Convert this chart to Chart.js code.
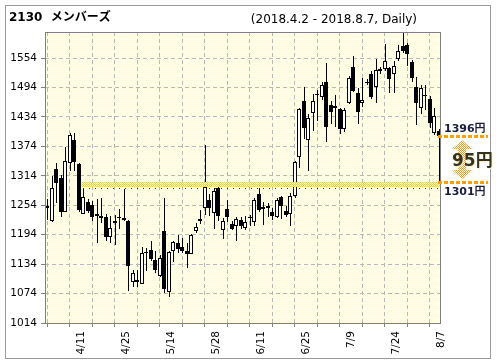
<!DOCTYPE html>
<html>
<head>
<meta charset="utf-8">
<script src="https://cdn.jsdelivr.net/npm/chart.js@4.4.1/dist/chart.umd.min.js"></script>
<style>
html,body{margin:0;padding:0;background:#fff;overflow:hidden}
canvas{display:block}
</style>
</head>
<body>
<canvas id="chart" width="496" height="364"></canvas>
<script>
// ---- data ----
const dates = ['4/2','4/3','4/4','4/5','4/6','4/9','4/10','4/11','4/12','4/13',
  '4/16','4/17','4/18','4/19','4/20','4/23','4/24','4/25','4/26','4/27',
  '5/1','5/2','5/7','5/8','5/9','5/10','5/11','5/14','5/15','5/16',
  '5/17','5/18','5/21','5/22','5/23','5/24','5/25','5/28','5/29','5/30',
  '5/31','6/1','6/4','6/5','6/6','6/7','6/8','6/11','6/12','6/13',
  '6/14','6/15','6/18','6/19','6/20','6/21','6/22','6/25','6/26','6/27',
  '6/28','6/29','7/2','7/3','7/4','7/5','7/6','7/9','7/10','7/11',
  '7/12','7/13','7/17','7/18','7/19','7/20','7/23','7/24','7/25','7/26',
  '7/27','7/30','7/31','8/1','8/2','8/3','8/6','8/7'];

const opens = [1252,1221,1328,1309,1241,1340,1387,1338,1237,1261,
  1255,1233,1228,1230,1190,1218,1231,1228,1222,1097,
  1097,1094,1157,1163,1143,1109,1201,1078,1160,1177,
  1168,1161,1155,1202,1226,1248,1265,1238,1290,1204,
  1247,1216,1212,1223,1208,1230,1219,1277,1246,1253,
  1241,1230,1270,1243,1237,1272,1352,1466,1387,1442,
  1481,1474,1506,1458,1456,1450,1409,1462,1536,1483,
  1462,1506,1522,1495,1527,1531,1534,1521,1552,1579,
  1581,1545,1495,1452,1477,1471,1401,1406];

const highs = [1267,1313,1341,1315,1372,1401,1402,1340,1289,1266,
  1262,1267,1269,1236,1233,1234,1247,1288,1224,1122,
  1121,1169,1167,1182,1160,1153,1269,1160,1182,1194,
  1187,1177,1195,1218,1245,1377,1277,1289,1292,1228,
  1265,1222,1231,1230,1233,1234,1268,1289,1260,1259,
  1248,1268,1272,1252,1279,1345,1452,1494,1440,1480,
  1489,1506,1543,1466,1479,1452,1452,1517,1558,1492,
  1513,1512,1527,1551,1535,1583,1536,1547,1581,1612,
  1584,1550,1516,1500,1498,1476,1452,1410];

const lows = [1223,1220,1258,1231,1240,1323,1323,1240,1236,1238,
  1222,1177,1218,1182,1178,1172,1206,1221,1080,1087,
  1087,1093,1119,1140,1116,1108,1076,1068,1138,1157,
  1156,1126,1154,1197,1216,1235,1232,1205,1221,1185,
  1219,1203,1182,1205,1203,1211,1211,1240,1214,1230,
  1223,1228,1225,1229,1211,1268,1330,1388,1324,1405,
  1425,1468,1383,1420,1413,1400,1404,1460,1484,1420,
  1455,1498,1470,1462,1522,1528,1483,1483,1547,1565,
  1537,1505,1417,1440,1448,1412,1398,1301];

const closes = [1248,1289,1300,1241,1345,1398,1342,1245,1271,1243,
  1231,1236,1233,1190,1208,1222,1227,1223,1131,1116,
  1102,1157,1158,1145,1123,1146,1083,1158,1180,1165,
  1161,1154,1194,1210,1222,1291,1248,1284,1232,1222,
  1229,1206,1225,1211,1219,1227,1264,1245,1251,1249,
  1233,1264,1253,1235,1272,1343,1450,1411,1431,1467,
  1478,1500,1413,1443,1453,1409,1449,1513,1486,1443,
  1468,1504,1475,1529,1532,1548,1511,1537,1569,1569,
  1562,1513,1462,1493,1478,1421,1436,1396];

const yTicks = [1014,1074,1134,1194,1254,1314,1374,1434,1494,1554];
const yMin = 1014, yMax = 1607;
const xLabelDates = ['4/11','4/25','5/14','5/28','6/11','6/25','7/9','7/24','8/7'];
const markLevel = 1301;       // lower reference level
const markFrom = '4/12';      // reference band starts here
const titleText = '2130  メンバーズ';
const periodText = '(2018.4.2 - 2018.8.7, Daily)';

// ---- derived for the library ----
const lastClose = closes[closes.length - 1];
const wickData = dates.map((d, i) => ({x: i + 0.5, y: [lows[i], highs[i]]}));
const bodyData = dates.map((d, i) => ({x: i + 0.5, y: [Math.min(opens[i], closes[i]), Math.max(opens[i], closes[i])]}));
const bodyColors = dates.map((d, i) => closes[i] >= opens[i] ? '#ffffff' : '#000000');
const xTickVals = [];
xLabelDates.forEach(d => { const v = dates.indexOf(d) + 1; xTickVals.push(v - 5, v); });

function checker(ctx, c1, c2) {
  const cv = document.createElement('canvas');
  cv.width = 2; cv.height = 2;
  const g = cv.getContext('2d');
  g.fillStyle = c2; g.fillRect(0, 0, 2, 2);
  g.fillStyle = c1; g.fillRect(0, 0, 1, 1); g.fillRect(1, 1, 1, 1);
  return ctx.createPattern(cv, 'repeat');
}

const decor = {
  id: 'decor',
  beforeDraw(chart) {
    const {ctx, chartArea: a} = chart;
    ctx.save();
    ctx.fillStyle = '#fff';
    ctx.fillRect(0, 0, chart.width, chart.height);
    ctx.strokeStyle = '#9a9a9a'; ctx.lineWidth = 1;
    ctx.strokeRect(5.5, 5.5, 485, 353);
    ctx.fillStyle = '#000'; ctx.textAlign = 'left'; ctx.textBaseline = 'alphabetic';
    ctx.font = "bold 12px 'DejaVu Sans','Noto Sans CJK JP'";
    ctx.fillText(titleText, 9, 20.5);
    ctx.font = "12px 'DejaVu Sans'";
    ctx.textAlign = 'right';
    ctx.fillText(periodText, 417, 22.5);
    ctx.fillStyle = checker(ctx, '#ffffcc', '#ffffff');
    ctx.fillRect(a.left, a.top, a.right - a.left, a.bottom - a.top);
    ctx.restore();
  },
  beforeDatasetsDraw(chart) {
    chart.data.datasets.forEach((ds, di) => {
      chart.getDatasetMeta(di).data.forEach(el => {
        if (el.$sx === el.x) return;
        const cx = Math.round(el.x);
        el.x = ds.label === 'wick' ? cx + 0.5 : cx;
        el.y = Math.round(el.y); el.base = Math.round(el.base);
        if (el.y === el.base) el.base = el.y + 1;
        el.$sx = el.x;
      });
    });
  },
  afterDatasetsDraw(chart) {
    const {ctx, chartArea: a, scales: {x: xs, y: ys}} = chart;
    ctx.save();
    // reference band
    const yb = Math.round(ys.getPixelForValue(markLevel));
    const x0 = Math.round(xs.getPixelForValue(dates.indexOf(markFrom) + 0.5)) - 1;
    const x1 = a.right - 1;
    ctx.fillStyle = checker(ctx, '#ffd400', '#ffffff');
    ctx.fillRect(x0, yb, x1 - x0, 5);
    ctx.fillStyle = '#333';
    for (let x = x0 + 1; x < x1; x += 6) ctx.fillRect(x, yb + 6, 1, 1);
    // plot frame
    ctx.strokeStyle = '#808080'; ctx.lineWidth = 1;
    ctx.strokeRect(a.left + 0.5, a.top + 0.5, a.right - a.left - 1, a.bottom - a.top);
    ctx.restore();
  },
  afterDraw(chart) {
    const {ctx, chartArea: a, scales: {y: ys}} = chart;
    const yT = Math.round(ys.getPixelForValue(lastClose));
    const yB = Math.round(ys.getPixelForValue(markLevel));
    ctx.save();
    // arrow
    const cx = a.right + 21, top = yT + 4, bot = yB - 3;
    ctx.beginPath();
    ctx.moveTo(cx, top);
    ctx.lineTo(cx + 10, top + 9); ctx.lineTo(cx + 4, top + 9);
    ctx.lineTo(cx + 4, bot - 9); ctx.lineTo(cx + 10, bot - 9);
    ctx.lineTo(cx, bot);
    ctx.lineTo(cx - 10, bot - 9); ctx.lineTo(cx - 4, bot - 9);
    ctx.lineTo(cx - 4, top + 9); ctx.lineTo(cx - 10, top + 9);
    ctx.closePath();
    ctx.fillStyle = checker(ctx, '#ff9a10', '#ffffff');
    ctx.fill();
    // dashed level lines
    ctx.strokeStyle = '#ffa000'; ctx.lineWidth = 3; ctx.setLineDash([4, 2]);
    [yT, yB].forEach(y => {
      ctx.beginPath(); ctx.moveTo(a.right - 3, y + 0.5); ctx.lineTo(a.right + 47, y + 0.5); ctx.stroke();
    });
    ctx.setLineDash([]);
    // texts
    ctx.textAlign = 'left'; ctx.textBaseline = 'alphabetic';
    ctx.fillStyle = '#1c1c40';
    ctx.font = "bold 11px 'DejaVu Sans','Noto Sans CJK JP'";
    ctx.fillText(lastClose + '円', a.right + 3, yT - 4);
    ctx.fillText(markLevel + '円', a.right + 3, yB + 13);
    ctx.font = "bold 17px 'DejaVu Sans','Noto Sans CJK JP'";
    ctx.fillStyle = '#fff2c0';
    ctx.fillText((lastClose - markLevel) + '円', a.right + 12, Math.round((yT + yB) / 2) + 8);
    ctx.fillStyle = '#333322';
    ctx.fillText((lastClose - markLevel) + '円', a.right + 11, Math.round((yT + yB) / 2) + 7);
    ctx.restore();
  }
};

const tickFont = {family: "'DejaVu Sans'", size: 10.5};

new Chart(document.getElementById('chart'), {
  type: 'bar',
  data: {
    datasets: [
      {label: 'body', data: bodyData, backgroundColor: bodyColors, borderColor: '#000',
       borderWidth: 1, borderSkipped: false, barThickness: 4, grouped: false, order: 1,
       minBarLength: 1, inflateAmount: 0, clip: 0},
      {label: 'wick', data: wickData, backgroundColor: '#000', borderWidth: 0,
       barThickness: 1, grouped: false, order: 2, inflateAmount: 0, clip: 0}
    ]
  },
  options: {
    responsive: false, animation: false, events: [],
    layout: {padding: {left: 0, right: 55, top: 32, bottom: 0}},
    plugins: {legend: {display: false}, tooltip: {enabled: false}, title: {display: false}},
    scales: {
      x: {
        type: 'linear', min: 0, max: 88, offset: false,
        afterBuildTicks: s => { s.ticks = xTickVals.map(v => ({value: v})); },
        afterFit: s => { s.height = 41; },
        grid: {color: '#b8b8b8', lineWidth: 1, drawTicks: true, tickLength: 4, tickColor: '#808080', tickBorderDash: []},
        border: {display: false, dash: [4, 3]},
        ticks: {autoSkip: false, minRotation: 90, maxRotation: 90, padding: 4, color: '#000', font: tickFont,
          callback: v => xLabelDates.includes(dates[v - 1]) ? dates[v - 1] : ''}
      },
      y: {
        type: 'linear', min: yMin, max: yMax,
        afterBuildTicks: s => { s.ticks = yTicks.map(v => ({value: v})); },
        afterFit: s => { s.width = 45; },
        grid: {color: '#b8b8b8', lineWidth: 1, drawTicks: true, tickLength: 4, tickColor: '#808080', tickBorderDash: []},
        border: {display: false, dash: [4, 3]},
        ticks: {padding: 4, color: '#000', font: tickFont, callback: v => String(v)}
      }
    }
  },
  plugins: [decor]
});
</script>
</body>
</html>
